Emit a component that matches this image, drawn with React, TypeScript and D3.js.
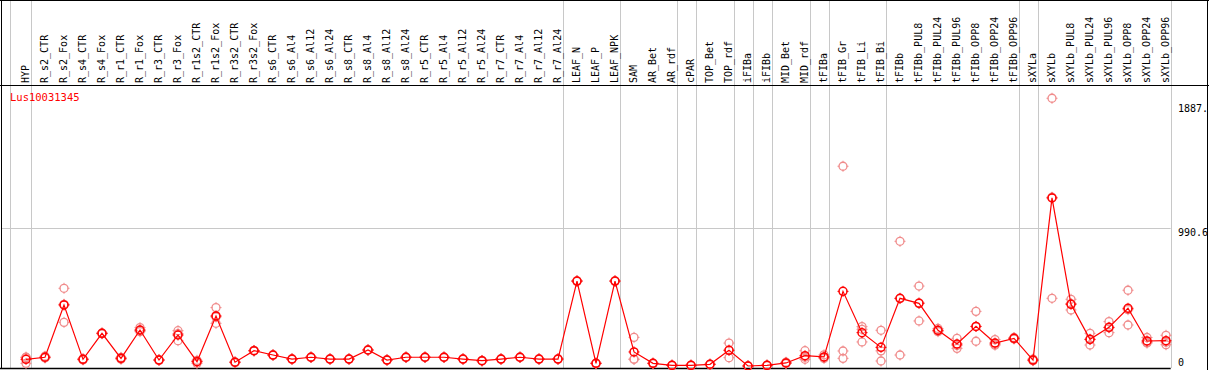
import React from "react";
import * as d3 from "d3";

const categories = [
  "HYP","R_s2_CTR","R_s2_Fox","R_s4_CTR","R_s4_Fox","R_r1_CTR","R_r1_Fox","R_r3_CTR","R_r3_Fox",
  "R_r1s2_CTR","R_r1s2_Fox","R_r3s2_CTR","R_r3s2_Fox","R_s6_CTR","R_s6_Al4","R_s6_Al12","R_s6_Al24",
  "R_s8_CTR","R_s8_Al4","R_s8_Al12","R_s8_Al24","R_r5_CTR","R_r5_Al4","R_r5_Al12","R_r5_Al24",
  "R_r7_CTR","R_r7_Al4","R_r7_Al12","R_r7_Al24","LEAF_N","LEAF_P","LEAF_NPK","SAM","AR_Bet","AR_rdf",
  "cPAR","TOP_Bet","TOP_rdf","iFIBa","iFIBb","MID_Bet","MID_rdf","tFIBa","tFIB_Gr","tFIB_Li","tFIB_Bi",
  "tFIBb","tFIBb_PUL8","tFIBb_PUL24","tFIBb_PUL96","tFIBb_OPP8","tFIBb_OPP24","tFIBb_OPP96","sXYLa",
  "sXYLb","sXYLb_PUL8","sXYLb_PUL24","sXYLb_PUL96","sXYLb_OPP8","sXYLb_OPP24","sXYLb_OPP96",
];

const means = [
  48, 63, 439, 48, 235, 55, 259, 43, 223, 31, 360, 27, 110, 79, 50, 63, 50, 50, 115, 43, 63,
  63, 63, 50, 38, 50, 63, 50, 50, 611, 19, 611, 101, 19, 5, 5, 12, 113, 0, 5, 22, 74, 65,
  537, 240, 134, 487, 451, 257, 158, 285, 165, 199, 43, 1209, 444, 192, 278, 415, 180, 182,
];

const replicates = [
  [63, 19, 62], [70, 58, 61], [559, 314, 444], [52, 44, 48], [238, 232, 235], [62, 48, 55],
  [276, 247, 254], [46, 40, 43], [254, 182, 233], [41, 19, 33], [420, 307, 353], [30, 24, 27],
  [112, 108, 110], [81, 77, 79], [52, 48, 50], [65, 61, 63], [52, 48, 50], [52, 48, 50],
  [117, 113, 115], [45, 41, 43], [65, 61, 63], [65, 61, 63], [65, 61, 63], [52, 48, 50],
  [40, 36, 38], [52, 48, 50], [65, 61, 63], [52, 48, 50], [52, 48, 50], [613, 609, 611],
  [21, 17, 19], [613, 609, 611], [206, 48, 49], [21, 17, 19], [7, 3, 5], [7, 3, 5], [14, 10, 12],
  [165, 60, 114], [1, 0, 0], [7, 3, 5], [27, 18, 21], [110, 48, 64], [80, 55, 60],
  [1437, 108, 55], [283, 173, 264], [257, 36, 109], [897, 79, 485], [575, 324, 454],
  [270, 247, 254], [199, 127, 148], [393, 178, 284], [190, 150, 155], [205, 195, 197],
  [50, 38, 41], [1926, 487, 1214], [480, 403, 449], [235, 151, 190], [319, 240, 275],
  [545, 295, 405], [205, 165, 170], [221, 153, 172],
];

const groupEnds = [0, 28, 31, 34, 35, 37, 38, 39, 41, 42, 45, 52, 53, 60];
const tickValues = [0, 990.6, 1887];
const tickLabels = ["0", "990.6", "1887."];
const title = "Lus10031345";

const W = 1209;
const H = 370;
const MONO = "'DejaVu Sans Mono', monospace";

function Marker({ x, y, color, sw }: { x: number; y: number; color: string; sw: number }) {
  const r = 4;
  return (
    <g>
      <circle cx={x} cy={y} r={r} fill="none" stroke={color} strokeWidth={sw} />
      <line x1={x} x2={x} y1={y - r - 1.5} y2={y - r + 0.5} stroke={color} strokeWidth={1} />
      <line x1={x} x2={x} y1={y + r - 0.5} y2={y + r + 1.5} stroke={color} strokeWidth={1} />
      <line x1={x - r - 1.5} x2={x - r + 0.5} y1={y} y2={y} stroke={color} strokeWidth={1} />
      <line x1={x + r - 0.5} x2={x + r + 1.5} y1={y} y2={y} stroke={color} strokeWidth={1} />
    </g>
  );
}

export default function App() {
  const x = d3.scalePoint<string>().domain(categories).range([26, 1166]);
  const y = d3.scaleLinear().domain([0, 990.6]).range([366, 228.3]);
  const line = d3
    .line<number>()
    .x((_, i) => x(categories[i]) as number)
    .y((d) => y(d));

  const plotRight = (x(categories[60]) as number) + 4.7;

  return (
    <svg
      width={W}
      height={H}
      style={{ position: "absolute", left: 0, top: 0, background: "#fff" }}
    >
      <rect x={0} y={0} width={W} height={H} fill="#fff" />
      {/* horizontal grid line */}
      <line x1={1} x2={plotRight} y1={Math.round(y(990.6)) + 0.5} y2={Math.round(y(990.6)) + 0.5} stroke="#c8c8c8" strokeWidth={1} />
      {/* vertical gray lines */}
      <line x1={10.5} x2={10.5} y1={0} y2={368} stroke="#c8c8c8" strokeWidth={1} />
      {groupEnds.map((i) => {
        const gx = Math.round((x(categories[i]) as number) + 4.7) + 0.5;
        return <line key={i} x1={gx} x2={gx} y1={0} y2={368} stroke="#c8c8c8" strokeWidth={1} />;
      })}
      {/* borders */}
      <line x1={0} x2={W} y1={0.5} y2={0.5} stroke="#000" strokeWidth={1} />
      <line x1={1.5} x2={1.5} y1={0} y2={369} stroke="#000" strokeWidth={1} />
      <line x1={0} x2={W} y1={85.5} y2={85.5} stroke="#000" strokeWidth={1} />
      <line x1={0} x2={plotRight} y1={368.5} y2={368.5} stroke="#000" strokeWidth={1.5} />
      <line x1={1207.5} x2={1207.5} y1={0} y2={H} stroke="#000" strokeWidth={1} />

      {/* header labels */}
      {categories.map((c) => {
        const cx = (x(c) as number) + 3;
        return (
          <text
            key={c}
            transform={`translate(${cx},83) rotate(-90)`}
            fontFamily={MONO}
            fontSize={10}
            fill="#000"
            textAnchor="start"
          >
            {c}
          </text>
        );
      })}

      {/* title */}
      <text x={10} y={101} fontFamily={MONO} fontSize={10.5} fill="#ff0000">
        {title}
      </text>

      {/* y tick labels */}
      {tickValues.map((v, i) => (
        <text
          key={v}
          x={1178}
          y={v === 0 ? 365.5 : y(v) + 8}
          fontFamily={MONO}
          fontSize={10}
          fill="#000"
        >
          {tickLabels[i]}
        </text>
      ))}

      {/* replicate points */}
      {replicates.map((reps, i) =>
        reps.map((v, j) => (
          <Marker key={`${i}-${j}`} x={x(categories[i]) as number} y={y(v)} color="#f08c8c" sw={1.3} />
        ))
      )}

      {/* mean line */}
      <path d={line(means) ?? ""} fill="none" stroke="#ff0000" strokeWidth={1.2} />

      {/* mean points */}
      {means.map((v, i) => (
        <Marker key={i} x={x(categories[i]) as number} y={y(v)} color="#ff0000" sw={1.5} />
      ))}
    </svg>
  );
}
